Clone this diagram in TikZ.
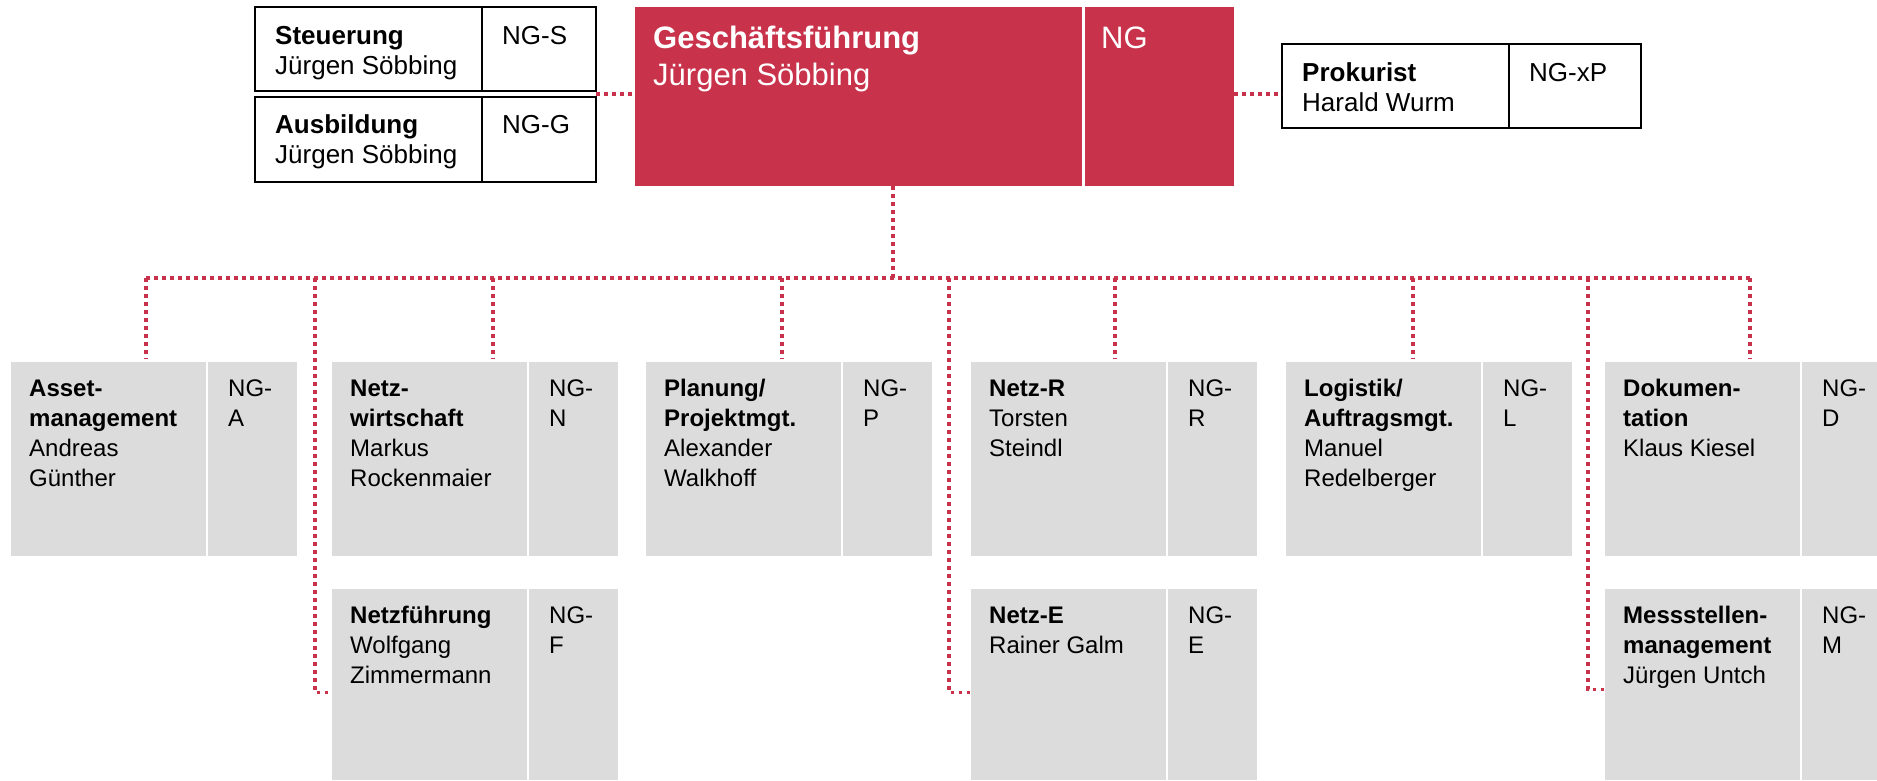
\documentclass[tikz,border=0pt]{standalone}
\usepackage{fontspec}
\setmainfont{Liberation Sans}
\usetikzlibrary{calc}
\definecolor{ngred}{RGB}{200,50,75}
\definecolor{nggray}{RGB}{220,220,220}
\newcommand\orgcard[7]{%
  \node[gpart, minimum width=195pt, minimum height=#4pt] (#1) at (#2,#3) {};
  \node[gpart, minimum width=#5pt, minimum height=#4pt] (#1c) at ([xshift=197pt]#1.north west) {};
  \node[rowtxt] (#1t) at ([shift={(18pt,-13pt)}]#1.north west) {\strut #6};
  \node[rowtxt] (#1ct) at ([shift={(20pt,-13pt)}]#1c.north west) {\strut #7};
}
\begin{document}
\begin{tikzpicture}[x=1pt,y=-1pt,
  gpart/.style={fill=nggray, draw=none, inner sep=0pt, outer sep=0pt, anchor=north west},
  wpart/.style={fill=white, draw=black, line width=2pt, inner sep=0pt, outer sep=0pt, anchor=north west},
  rpart/.style={fill=ngred, draw=none, inner sep=0pt, outer sep=0pt, anchor=north west},
  rowtxt/.style={anchor=north west, inner sep=0pt, align=left, text=black, font=\fontsize{24}{30}\selectfont},
  toptxt/.style={anchor=north west, inner sep=0pt, align=left, text=black, font=\fontsize{26}{30.5}\selectfont},
  gftxt/.style={anchor=north west, inner sep=0pt, align=left, text=white, font=\fontsize{31}{37}\selectfont},
  dotline/.style={draw=ngred, line width=3.8pt, dash pattern=on 3.8pt off 4.2pt}]
\fill[white] (0,0) rectangle (1877,780);
\useasboundingbox (0,0) rectangle (1877,780);

% --- top row ---
\node[wpart, minimum width=227pt, minimum height=84pt] (steu) at (255,7) {};
\node[wpart, minimum width=114pt, minimum height=84pt] (steuc) at (482,7) {};
\node[toptxt] (steut) at ([shift={(20pt,-15.5pt)}]steu.north west) {\strut\textbf{Steuerung}\\Jürgen Söbbing};
\node[toptxt] (steuct) at ([shift={(20pt,-15.5pt)}]steuc.north west) {\strut NG-S};

\node[wpart, minimum width=227pt, minimum height=85pt] (ausb) at (255,97) {};
\node[wpart, minimum width=114pt, minimum height=85pt] (ausbc) at (482,97) {};
\node[toptxt] (ausbt) at ([shift={(20pt,-14.5pt)}]ausb.north west) {\strut\textbf{Ausbildung}\\Jürgen Söbbing};
\node[toptxt] (ausbct) at ([shift={(20pt,-14.5pt)}]ausbc.north west) {\strut NG-G};

\node[rpart, minimum width=447pt, minimum height=179pt] (gf) at (635,7) {};
\node[rpart, minimum width=149pt, minimum height=179pt] (gfc) at (1085,7) {};
\node[gftxt] (gft) at ([shift={(18pt,-15pt)}]gf.north west) {\strut\textbf{Geschäftsführung}\\Jürgen Söbbing};
\node[gftxt] (gfct) at ([shift={(16pt,-15pt)}]gfc.north west) {\strut NG};

\node[wpart, minimum width=227pt, minimum height=84pt] (prok) at (1282,44) {};
\node[wpart, minimum width=132pt, minimum height=84pt] (prokc) at (1509,44) {};
\node[toptxt] (prokt) at ([shift={(20pt,-15.5pt)}]prok.north west) {\strut\textbf{Prokurist}\\Harald Wurm};
\node[toptxt] (prokct) at ([shift={(20pt,-15.5pt)}]prokc.north west) {\strut NG-xP};

% --- first row of departments ---
\orgcard{asset}{11}{362}{194}{89}{\textbf{Asset-}\\\textbf{management}\\Andreas\\Günther}{NG-\\A}
\orgcard{nw}{332}{362}{194}{89}{\textbf{Netz-}\\\textbf{wirtschaft}\\Markus\\Rockenmaier}{NG-\\N}
\orgcard{plan}{646}{362}{194}{89}{\textbf{Planung/}\\\textbf{Projektmgt.}\\Alexander\\Walkhoff}{NG-\\P}
\orgcard{nr}{971}{362}{194}{89}{\textbf{Netz-R}\\Torsten\\Steindl}{NG-\\R}
\orgcard{log}{1286}{362}{194}{89}{\textbf{Logistik/}\\\textbf{Auftragsmgt.}\\Manuel\\Redelberger}{NG-\\L}
\orgcard{doku}{1605}{362}{194}{75}{\textbf{Dokumen-}\\\textbf{tation}\\Klaus Kiesel}{NG-\\D}

% --- second row ---
\orgcard{nf}{332}{589}{191}{89}{\textbf{Netzführung}\\Wolfgang\\Zimmermann}{NG-\\F}
\orgcard{ne}{971}{589}{191}{89}{\textbf{Netz-E}\\Rainer Galm}{NG-\\E}
\orgcard{ms}{1605}{589}{191}{75}{\textbf{Messstellen-}\\\textbf{management}\\Jürgen Untch}{NG-\\M}

% --- connectors ---
\coordinate (sajoin) at ($(steuc.south east)!0.5!(ausbc.north east)$);
\draw[dotline] (sajoin) -- (sajoin -| gf.west);
\draw[dotline] (gfc.east |- sajoin) -- (prok.west |- sajoin);

\coordinate (busgf) at (893,278);
\coordinate (busL) at (146,278);
\coordinate (busR) at (1750,278);
\draw[dotline] (busgf |- gf.south) -- (busgf);
\draw[dotline] (busL) -- (busR);

\coordinate (bA) at (146,278);
\coordinate (bN) at (493,278);
\coordinate (bP) at (782,278);
\coordinate (bR) at (1115,278);
\coordinate (bL) at (1413,278);
\coordinate (bD) at (1750,278);
\draw[dotline] (bA) -- ([yshift=3pt]bA |- asset.north);
\draw[dotline] (bN) -- ([yshift=3pt]bN |- nw.north);
\draw[dotline] (bP) -- ([yshift=3pt]bP |- plan.north);
\draw[dotline] (bR) -- ([yshift=3pt]bR |- nr.north);
\draw[dotline] (bL) -- ([yshift=3pt]bL |- log.north);
\draw[dotline] (bD) -- ([yshift=3pt]bD |- doku.north);

\coordinate (bF) at (315,278);
\coordinate (bE) at (949,278);
\coordinate (bM) at (1588,278);
\draw[dotline] (bF) |- ([yshift=-8pt]nf.west);
\draw[dotline] (bE) |- ([yshift=-8pt]ne.west);
\draw[dotline] (bM) |- ([yshift=-5pt]ms.west);
\end{tikzpicture}
\end{document}
